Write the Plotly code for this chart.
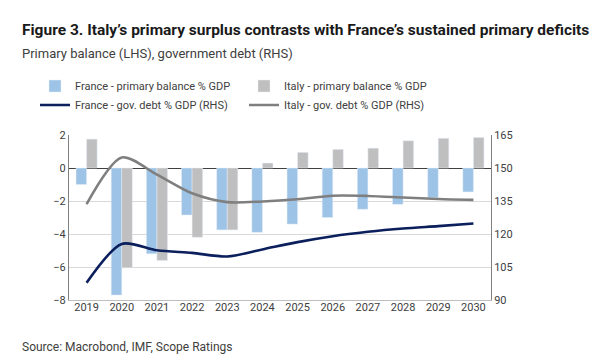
import plotly.graph_objects as go

years = ["2019", "2020", "2021", "2022", "2023", "2024", "2025", "2026", "2027", "2028", "2029", "2030"]
france_pb = [-1.0, -7.7, -5.2, -2.85, -3.75, -3.9, -3.4, -3.0, -2.5, -2.2, -1.8, -1.45]
italy_pb = [1.75, -6.05, -5.6, -4.2, -3.75, 0.3, 0.95, 1.13, 1.2, 1.65, 1.8, 1.85]
france_debt = [97.8, 115.5, 112.6, 111.4, 109.8, 113.0, 116.3, 119.0, 121.0, 122.5, 123.6, 124.8]
italy_debt = [133.6, 154.8, 147.0, 138.5, 134.5, 134.8, 135.8, 137.4, 137.3, 136.6, 135.9, 135.5]

FONT = "Roboto, Arial, sans-serif"
W, H = 600, 360
ML, MR, MT, MB = 61, 117, 127, 68
plot_w = W - ML - MR
plot_h = H - MT - MB


def px(xp):
    return (xp - ML) / plot_w


def py(yp):
    return (H - MB - yp) / plot_h


fig = go.Figure()
fig.add_trace(go.Bar(x=years, y=france_pb, name="France - primary balance % GDP",
                     marker_color="#9DC3E6", yaxis="y", legend="legend"))
fig.add_trace(go.Bar(x=years, y=italy_pb, name="Italy - primary balance % GDP",
                     marker_color="#BFBFBF", yaxis="y", legend="legend2"))
fig.add_trace(go.Scatter(x=years, y=france_debt, name="France - gov. debt % GDP (RHS)",
                         mode="lines", line=dict(color="#0A1F5C", width=2.6, shape="spline", smoothing=0.8),
                         yaxis="y2", legend="legend3"))
fig.add_trace(go.Scatter(x=years, y=italy_debt, name="Italy - gov. debt % GDP (RHS)",
                         mode="lines", line=dict(color="#7F7F7F", width=2.6, shape="spline", smoothing=0.8),
                         yaxis="y2", legend="legend4"))


def leg(xp, yp):
    return dict(x=px(xp), y=py(yp), xanchor="left", yanchor="middle", orientation="h",
                font=dict(size=11, color="#404040", family=FONT), itemwidth=30,
                bgcolor="rgba(0,0,0,0)", borderwidth=0)


fig.update_layout(
    width=W, height=H,
    margin=dict(l=ML, r=MR, t=MT, b=MB),
    paper_bgcolor="white", plot_bgcolor="white",
    font=dict(family=FONT, size=11, color="#404040"),
    barmode="group", bargap=0.4, bargroupgap=0.0,
    showlegend=True,
    legend=leg(27, 78),
    legend2=leg(236, 78),
    legend3=leg(27, 97),
    legend4=leg(236, 97),
    xaxis=dict(type="category", showgrid=False, showline=True, linecolor="#BFBFBF",
               ticks="", ticklabelstandoff=-3, tickfont=dict(size=11, color="#404040")),
    yaxis=dict(range=[-8, 2], dtick=2, showgrid=True, gridcolor="#D9D9D9", gridwidth=1,
               zeroline=True, zerolinecolor="#404040", zerolinewidth=1.2,
               showline=True, linecolor="#808080", ticks="", tickfont=dict(size=11)),
    yaxis2=dict(range=[90, 165], dtick=15, overlaying="y", side="right", showgrid=False,
                zeroline=False, showline=True, linecolor="#808080", ticks="", tickfont=dict(size=11)),
)

fig.add_annotation(text="<b>Figure 3. Italy’s primary surplus contrasts with France’s sustained primary deficits</b>",
                   xref="paper", yref="paper", x=px(12), y=py(22), xanchor="left", yanchor="middle",
                   showarrow=False, font=dict(size=15.5, color="#1a1a1a", family=FONT))
fig.add_annotation(text="Primary balance (LHS), government debt (RHS)",
                   xref="paper", yref="paper", x=px(12), y=py(46), xanchor="left", yanchor="middle",
                   showarrow=False, font=dict(size=13, color="#404040", family=FONT))
fig.add_annotation(text="Source: Macrobond, IMF, Scope Ratings",
                   xref="paper", yref="paper", x=px(12), y=py(339), xanchor="left", yanchor="middle",
                   showarrow=False, font=dict(size=12, color="#404040", family=FONT))

fig.write_html("out.html")
